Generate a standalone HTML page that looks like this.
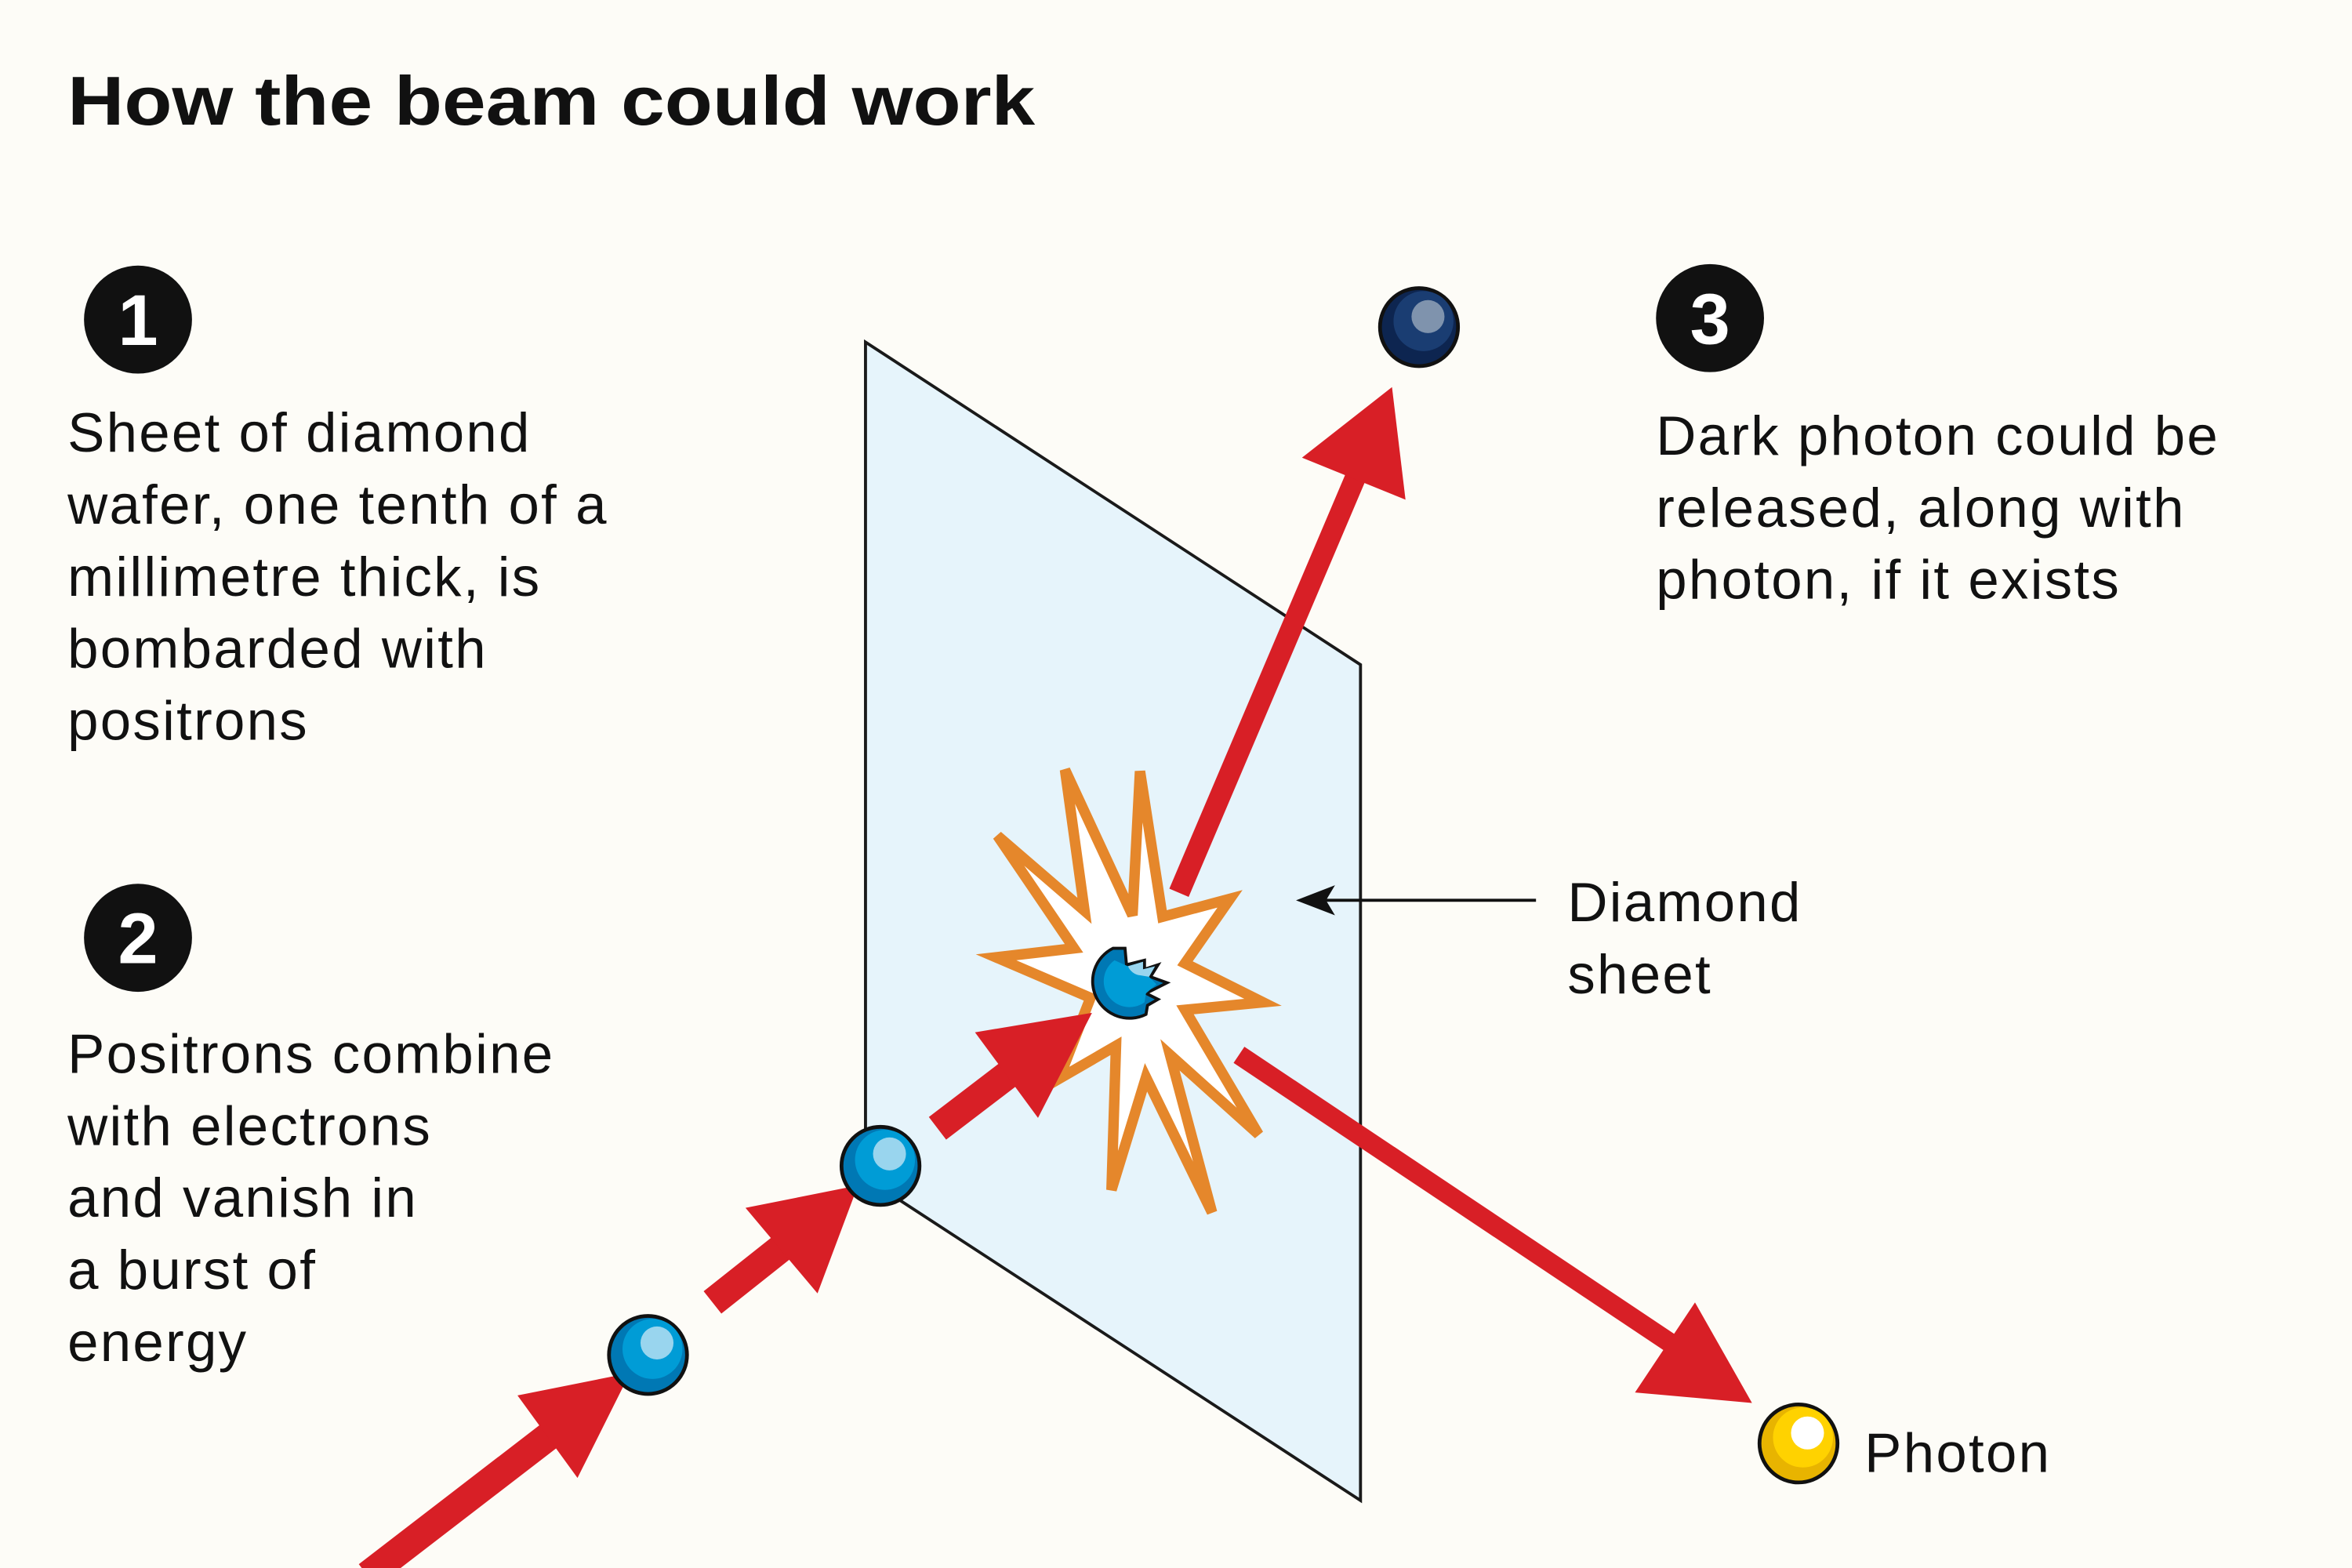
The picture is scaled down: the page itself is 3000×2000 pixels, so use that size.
<!DOCTYPE html>
<html><head><meta charset="utf-8"><style>
html,body{margin:0;padding:0;background:#fdfcf7}
svg{display:block}
text{font-family:"Liberation Sans",sans-serif;fill:#111}
.b{font-size:37px;letter-spacing:1.2px}
</style></head><body>
<svg width="3000" height="2000" viewBox="0 0 1568 1045" preserveAspectRatio="none" xmlns="http://www.w3.org/2000/svg">
<rect width="1568" height="1045" fill="#fdfcf7"/>
<text x="45" y="83" textLength="645" lengthAdjust="spacingAndGlyphs" style="font-size:46px;font-weight:bold">How the beam could work</text>

<polygon points="577,228 907,443 907,1000 577,785" fill="#e6f4fb" stroke="#1a1a1a" stroke-width="2"/>

<circle cx="92" cy="213" r="36" fill="#111"/>
<text x="92" y="230" text-anchor="middle" style="font-size:48px;font-weight:bold;fill:#fff">1</text>
<circle cx="92" cy="625" r="36" fill="#111"/>
<text x="92" y="642" text-anchor="middle" style="font-size:48px;font-weight:bold;fill:#fff">2</text>
<circle cx="1140" cy="212" r="36" fill="#111"/>
<text x="1140" y="229" text-anchor="middle" style="font-size:48px;font-weight:bold;fill:#fff">3</text>

<text x="45" y="301" class="b">Sheet of diamond</text>
<text x="45" y="349" class="b">wafer, one tenth of a</text>
<text x="45" y="397" class="b">millimetre thick, is</text>
<text x="45" y="445" class="b">bombarded with</text>
<text x="45" y="493" class="b">positrons</text>
<text x="45" y="715" class="b">Positrons combine</text>
<text x="45" y="763" class="b">with electrons</text>
<text x="45" y="811" class="b">and vanish in</text>
<text x="45" y="859" class="b">a burst of</text>
<text x="45" y="907" class="b">energy</text>
<text x="1104" y="303" class="b">Dark photon could be</text>
<text x="1104" y="351" class="b">released, along with</text>
<text x="1104" y="399" class="b">photon, if it exists</text>
<text x="1045" y="614" class="b">Diamond</text>
<text x="1045" y="662" class="b">sheet</text>
<text x="1243" y="981" class="b">Photon</text>

<line x1="1024" y1="600" x2="880" y2="600" stroke="#111" stroke-width="2"/>
<polygon points="864,600 890,590 884,600 890,610" fill="#111"/>

<!-- explosion -->
<polygon points="710,513 755,610 760,514 775,611 820,599 790,642 842,668 790,673 839,756 780,703 808,808 764,718 741,793 744,697 706,719 727,665 664,638 716,632 665,557 723,607" fill="#fff" stroke="#e5872b" stroke-width="7" stroke-linejoin="miter"/>

<!-- arrows -->
<g fill="#d81f26" stroke="none">
<line x1="245" y1="1050" x2="375" y2="950" stroke="#d81f26" stroke-width="19"/>
<polygon points="420,915 345,930 385,985"/>
<line x1="475" y1="868" x2="528" y2="826" stroke="#d81f26" stroke-width="19"/>
<polygon points="572,790 497,805 545,862"/>
<line x1="625" y1="752" x2="680" y2="710" stroke="#d81f26" stroke-width="19"/>
<polygon points="728,675 650,688 692,745"/>
<line x1="786" y1="595" x2="905" y2="315" stroke="#d81f26" stroke-width="14"/>
<polygon points="928,258 868,305 937,333"/>
<line x1="826" y1="703" x2="1118" y2="898" stroke="#d81f26" stroke-width="13"/>
<polygon points="1168,935 1130,868 1090,928"/>
</g>

<!-- particles -->
<g stroke="#111" stroke-width="2.5">
<circle cx="432" cy="903" r="26" fill="#0078b4"/>
<circle cx="587" cy="777" r="26" fill="#0078b4"/>
<circle cx="946" cy="218" r="26" fill="#0d2550"/>
<circle cx="1199" cy="962" r="26" fill="#e8b400"/>
</g>
<circle cx="435" cy="899" r="20" fill="#009cd6"/>
<circle cx="438" cy="895" r="11" fill="#99d5ee"/>
<circle cx="590" cy="773" r="20" fill="#009cd6"/>
<circle cx="593" cy="769" r="11" fill="#99d5ee"/>
<circle cx="949" cy="214" r="20" fill="#1a3d72"/>
<circle cx="952" cy="211" r="11" fill="#7f93ad"/>
<circle cx="1202" cy="958" r="20" fill="#ffd200"/>
<circle cx="1205" cy="955" r="11" fill="#fff"/>

<!-- broken particle -->
<path d="M742,632 A22,22 0 0 0 764,676 L765,670 L772,666 L764,662 L778,655 L767,651 L772,643 L763,646 L763,640 L751,643 L750,632 Z" fill="#0078b4" stroke="#111" stroke-width="2"/>
<path d="M743,640 A17,17 0 0 0 763,668 L764,662 L771,656 L766,651 L770,644 L762,646 L762,641 L752,644 Z" fill="#009cd6"/>
<path d="M752,644 L762,641 L762,646 L770,644 L766,651 L760,650 A10,10 0 0 1 752,644 Z" fill="#99d5ee"/>
</svg>
</body></html>
